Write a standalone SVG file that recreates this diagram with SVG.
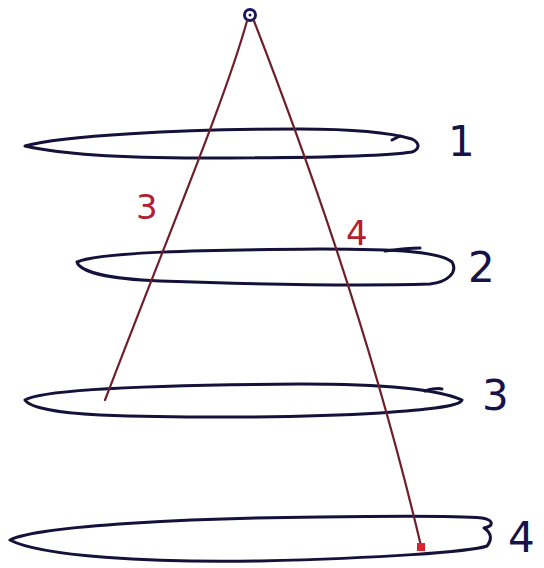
<svg xmlns="http://www.w3.org/2000/svg" width="544" height="568" viewBox="0 0 544 568">
<style>
.disc{fill:none;stroke:#14123a;stroke-width:3;stroke-linecap:round;stroke-linejoin:round}
.ray{fill:none;stroke:#6e1f2c;stroke-width:2.2;stroke-linecap:round}
.num{font-family:"DejaVu Sans",sans-serif;fill:#16124a;font-size:42px}
.lab{font-family:"DejaVu Sans",sans-serif;fill:#b0202e;font-size:34px}
</style>
<rect width="544" height="568" fill="#ffffff"/>
<g id="disc1">
<path class="disc" d="M25,146 C60,136 180,129 300,129 C360,129 395,134 412,139 C420,143 420,149 412,152 C380,157 300,158 200,158 C120,158 60,154 25,146 Z"/>
<path class="disc" d="M392,140 L400,136"/>
</g>
<g id="disc2">
<path class="disc" d="M77,262 C100,252 200,250 320,249 C400,249 440,252 452,262 C458,272 448,282 430,284 C360,286 250,284 160,281 C110,279 80,272 77,262 Z"/>
<path class="disc" d="M385,251 C400,249 410,248 420,248"/>
</g>
<g id="disc3">
<path class="disc" d="M25,400 C40,390 150,385 300,384 C390,384 440,390 462,400 C460,407 420,410 380,413 C300,418 180,418 100,415 C60,413 30,408 25,400 Z"/>
<path class="disc" d="M425,391 C432,389 438,388 442,389"/>
</g>
<g id="disc4">
<path class="disc" d="M10,540 C40,525 200,518 320,517 C400,516 460,516 482,518 C494,520 494,526 484,528 C492,533 492,540 487,546 C470,552 380,558 260,561 C150,563 40,556 10,540 Z"/>
</g>
<g id="apex">
<circle cx="250" cy="15" r="5.5" fill="none" stroke="#1a1660" stroke-width="3"/>
<circle cx="250" cy="15" r="1.5" fill="#1a1660"/>
</g>
<g id="connectors">
<path class="ray" d="M247,21 C225,100 170,230 105,400"/>
<path class="ray" d="M254,21 C300,140 370,330 421,546"/>
<rect x="417" y="543" width="8" height="8" fill="#d8262e"/>
</g>
<g id="labels">
<text class="num" x="448" y="156">1</text>
<text class="num" x="468" y="282">2</text>
<text class="num" x="482" y="410">3</text>
<text class="num" x="508" y="552">4</text>
<text class="lab" x="136" y="219">3</text>
<text class="lab" x="346" y="245">4</text>
</g>
</svg>
